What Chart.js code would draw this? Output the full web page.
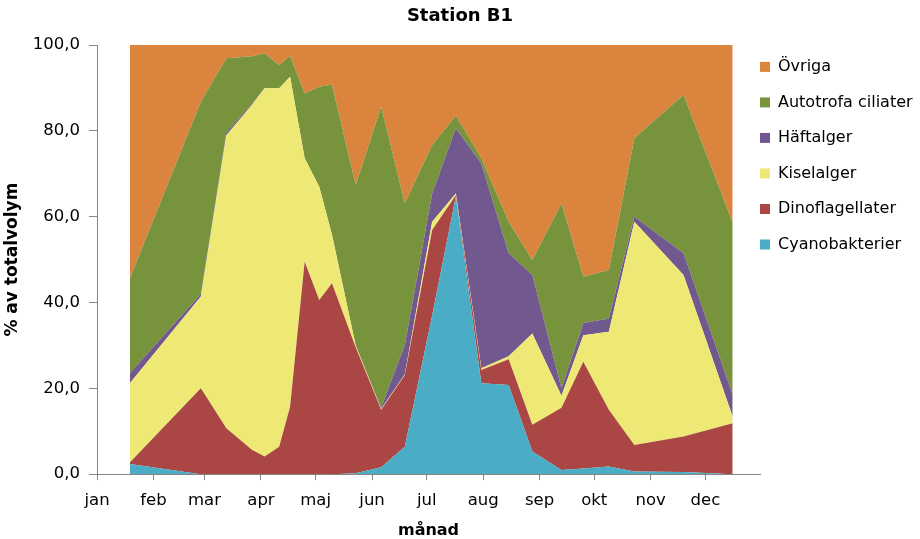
<!DOCTYPE html>
<html>
<head>
<meta charset="utf-8">
<script src="https://cdn.jsdelivr.net/npm/chart.js@4.4.1/dist/chart.umd.min.js"></script>
<style>
  body { margin: 0; background: #fff; }
</style>
</head>
<body>
<canvas id="stationChart" width="920" height="539"></canvas>
<script>
// provtagningsdagar (dag från 1 jan)
var days = [18, 57, 71, 85, 92, 100, 106, 114, 122, 129, 142, 156, 169, 184, 197, 211, 226, 239, 255, 267, 281, 295, 322, 349];

// andel av totalvolym (%) per grupp
var cyano  = [2.4, 0, 0, 0, 0, 0, 0, 0, 0, 0, 0.2, 1.6, 6.4, 37.0, 64.7, 21.2, 20.8, 5.3, 1.0, 1.3, 1.8, 0.6, 0.5, 0];
var dino   = [0.3, 20.0, 10.7, 5.7, 4.1, 6.4, 15.7, 49.5, 40.6, 44.5, 29.4, 13.4, 16.7, 19.9, 0.3, 3.1, 6.0, 6.2, 14.5, 24.9, 13.2, 6.2, 8.3, 11.9];
var kisel  = [18.5, 21.4, 68.3, 80.3, 85.8, 83.5, 76.9, 24.1, 26.4, 11.3, 0.4, 0.2, 0.2, 1.9, 0.4, 0.4, 0.7, 21.3, 2.8, 6.2, 18.2, 52.0, 37.6, 1.5];
var haft   = [2.3, 0.6, 0.6, 0.3, 0.1, 0, 0, 0, 0, 0, 0, 0.3, 6.8, 6.6, 15.2, 47.7, 24.0, 13.6, 1.7, 2.8, 3.1, 1.2, 5.1, 5.1];
var auto   = [22.1, 44.8, 17.3, 11.1, 8.1, 5.4, 4.9, 15.1, 23.3, 35.0, 37.4, 70.1, 33.0, 11.3, 2.9, 1.2, 7.3, 3.5, 43.1, 10.8, 11.3, 18.3, 36.9, 40.1];
var ovriga = [54.4, 13.2, 3.1, 2.6, 1.9, 4.7, 2.5, 11.3, 9.7, 9.2, 32.6, 14.4, 36.9, 23.3, 16.5, 26.4, 41.2, 50.1, 36.9, 54.0, 52.4, 21.7, 11.6, 41.4];

// månadsaxel
var monthStarts = [0, 31, 59, 90, 120, 151, 181, 212, 243, 273, 304, 334];
var monthNames = ['jan', 'feb', 'mar', 'apr', 'maj', 'jun', 'jul', 'aug', 'sep', 'okt', 'nov', 'dec'];
var yTicks = [0, 20, 40, 60, 80, 100];

function points(values) {
    return days.map(function (d, i) { return {x: d, y: values[i]}; });
}

function area(label, values, color, fill) {
    return {
        label: label,
        data: points(values),
        backgroundColor: color,
        borderColor: 'rgba(0,0,0,0)',
        borderWidth: 0,
        pointRadius: 0,
        fill: fill,
        tension: 0
    };
}

Chart.defaults.font.family = 'DejaVu Sans';
Chart.defaults.color = '#000';

var axisGray = '#868686';
var ctx = document.getElementById('stationChart').getContext('2d');
var chart = new Chart(ctx, {
    type: 'line',
    data: {
        datasets: [
            area('Cyanobakterier', cyano, '#4BACC6', 'origin'),
            area('Dinoflagellater', dino, '#AA4643', '-1'),
            area('Kiselalger', kisel, '#EDE974', '-1'),
            area('Häftalger', haft, '#71588F', '-1'),
            area('Autotrofa ciliater', auto, '#77933C', '-1'),
            area('Övriga', ovriga, '#DB843D', '-1')
        ]
    },
    options: {
        responsive: false,
        animation: false,
        layout: { padding: 0 },
        scales: {
            x: {
                type: 'linear',
                min: 0,
                max: 364,
                afterBuildTicks: function (scale) {
                    scale.ticks = monthStarts.map(function (v) { return {value: v}; });
                },
                ticks: {
                    autoSkip: false,
                    maxRotation: 0,
                    padding: 11,
                    font: { size: 16.5 },
                    callback: function (value) {
                        return monthNames[monthStarts.indexOf(value)];
                    }
                },
                grid: { drawOnChartArea: false, tickLength: 6, color: axisGray },
                border: { color: axisGray },
                title: {
                    display: true,
                    text: 'månad',
                    font: { size: 16, weight: 'bold', lineHeight: 1 },
                    padding: { top: 1, bottom: 0 }
                }
            },
            y: {
                stacked: true,
                min: 0,
                max: 100,
                afterBuildTicks: function (scale) {
                    scale.ticks = yTicks.map(function (v) { return {value: v}; });
                },
                ticks: {
                    padding: 9,
                    font: { size: 16.5 },
                    callback: function (value) {
                        return value.toFixed(1).replace('.', ',');
                    }
                },
                grid: { drawOnChartArea: false, tickLength: 8, color: axisGray },
                border: { color: axisGray },
                title: {
                    display: true,
                    text: '% av totalvolym',
                    font: { size: 17, weight: 'bold' },
                    padding: { top: 2, bottom: 1.4 }
                }
            }
        },
        plugins: {
            title: {
                display: true,
                text: 'Station B1',
                font: { size: 18, weight: 'bold' },
                padding: { top: 6, bottom: 17.4 }
            },
            legend: {
                position: 'right',
                align: 'start',
                reverse: true,
                maxWidth: 160,
                title: { display: true, text: '', font: { size: 12 }, padding: { top: 44.5, bottom: 0 } },
                labels: {
                    boxWidth: 10,
                    boxHeight: 10,
                    padding: 0,
                    font: { size: 16, lineHeight: 2.22 },
                    // text som lista ger radavstånd efter lineHeight
                    generateLabels: function (c) {
                        return Chart.defaults.plugins.legend.labels.generateLabels(c).map(function (l) {
                            l.text = [l.text];
                            return l;
                        });
                    }
                }
            },
            tooltip: { enabled: false }
        }
    }
});
</script>
</body>
</html>
